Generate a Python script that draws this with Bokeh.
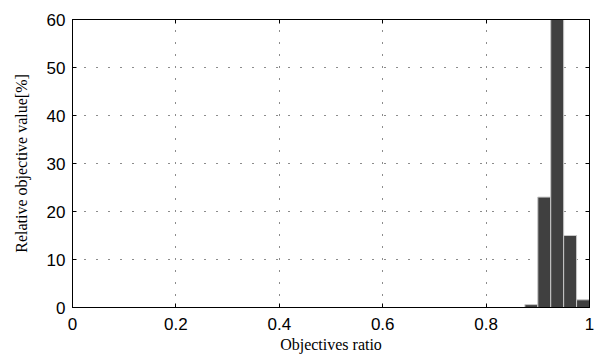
from bokeh.plotting import figure
from bokeh.models import LinearAxis, FixedTicker, Range1d, ColumnDataSource
from bokeh.embed import file_html
from bokeh.resources import INLINE

bin_left = [0.875, 0.900, 0.925, 0.950, 0.975]
bin_right = [0.900, 0.925, 0.950, 0.975, 1.000]
rel_value = [0.6, 23.0, 60.0, 15.0, 1.6]

x_ticks = [0, 0.2, 0.4, 0.6, 0.8, 1.0]
x_tick_labels = ["0", "0.2", "0.4", "0.6", "0.8", "1"]
y_ticks = [0, 10, 20, 30, 40, 50, 60]

p = figure(width=598, height=360, output_backend="svg", toolbar_location=None,
           x_range=Range1d(0, 1), y_range=Range1d(0, 60),
           min_border_left=72, min_border_top=19, min_border_right=9, min_border_bottom=53)

src = ColumnDataSource(dict(left=bin_left, right=bin_right, top=rel_value,
                            bottom=[0] * len(rel_value)))
p.quad(left="left", right="right", top="top", bottom="bottom", source=src,
       fill_color="#404040", line_color="#c8c8c8", line_width=1)

p.xaxis.ticker = FixedTicker(ticks=x_ticks)
p.xaxis.major_label_overrides = {t: l for t, l in zip(x_ticks, x_tick_labels)}
p.yaxis.ticker = FixedTicker(ticks=y_ticks)

for ax in (p.xaxis[0], p.yaxis[0]):
    ax.major_tick_in = 4
    ax.major_tick_out = 0
    ax.minor_tick_in = 0
    ax.minor_tick_out = 0
    ax.axis_line_color = "black"
    ax.major_tick_line_color = "black"
    ax.major_label_text_font = "Liberation Sans"
    ax.major_label_text_font_size = "17px"
    ax.major_label_text_color = "black"
    ax.axis_label_text_font = "Liberation Serif"
    ax.axis_label_text_font_size = "16px"
    ax.axis_label_text_font_style = "normal"
    ax.axis_label_text_color = "black"

p.xaxis.axis_label = "Objectives ratio"
p.yaxis.axis_label = "Relative objective value[%]"
p.xaxis.major_label_standoff = 10
p.yaxis.major_label_standoff = 7
p.xaxis.axis_label_standoff = 3
p.yaxis.axis_label_standoff = 14

top_ax = LinearAxis(ticker=FixedTicker(ticks=x_ticks),
                    major_label_overrides={t: "" for t in x_ticks},
                    major_tick_in=4, major_tick_out=0, minor_tick_in=0, minor_tick_out=0,
                    axis_line_color="black", major_label_standoff=0)
right_ax = LinearAxis(ticker=FixedTicker(ticks=y_ticks),
                      major_label_overrides={t: "" for t in y_ticks},
                      major_tick_in=4, major_tick_out=0, minor_tick_in=0, minor_tick_out=0,
                      axis_line_color="black", major_label_standoff=0)
p.add_layout(top_ax, "above")
p.add_layout(right_ax, "right")

p.xgrid.grid_line_color = "black"
p.ygrid.grid_line_color = "black"
p.xgrid.grid_line_dash = "1 11"
p.ygrid.grid_line_dash = "1 11"
p.xgrid.grid_line_alpha = 0.9
p.ygrid.grid_line_alpha = 0.9

p.outline_line_color = "black"
p.outline_line_width = 1
p.background_fill_color = "white"
p.border_fill_color = "white"

open("out.html", "w").write(file_html(p, INLINE))
